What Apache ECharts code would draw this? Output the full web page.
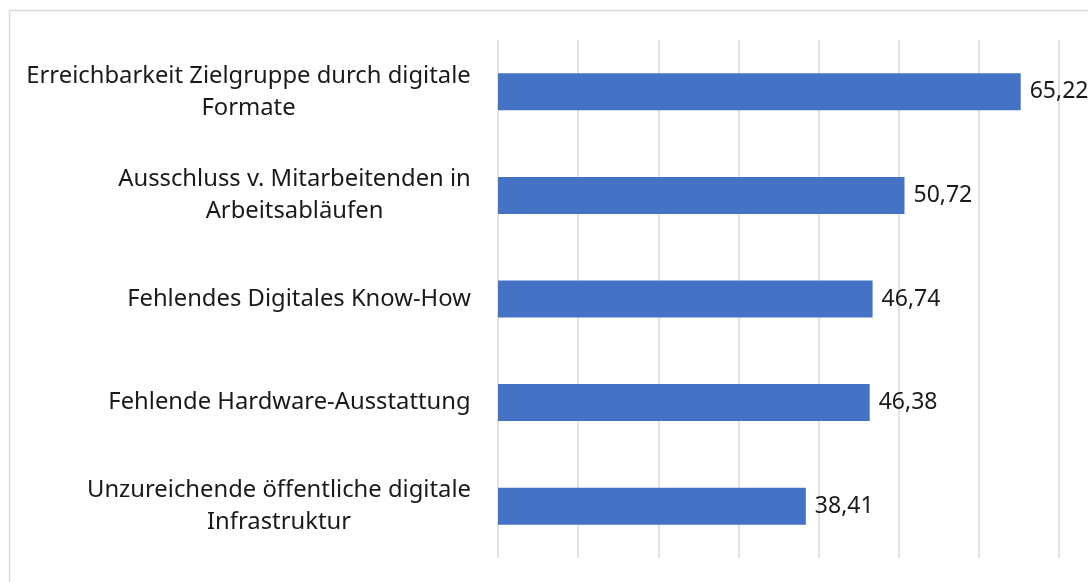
<!DOCTYPE html>
<html>
<head>
<meta charset="utf-8">
<script src="https://cdn.jsdelivr.net/npm/echarts@6/dist/echarts.min.js"></script>
<style>
  html, body { margin: 0; padding: 0; background: #fff; }
  #chart { width: 1088px; height: 582px; }
</style>
</head>
<body>
<div id="chart"></div>
<script>
// Kategorien (von oben nach unten) und Werte in Prozent
var categories = [
  'Erreichbarkeit Zielgruppe durch digitale\nFormate',
  'Ausschluss v. Mitarbeitenden in\nArbeitsabläufen',
  'Fehlendes Digitales Know-How',
  'Fehlende Hardware-Ausstattung',
  'Unzureichende öffentliche digitale\nInfrastruktur'
]
var values = [65.22, 50.72, 46.74, 46.38, 38.41]

var fontFamily = 'Noto Sans'
var fontSize = 23.8

// breite der längsten zeile messen, damit mehrzeilige labels zentriert werden
var ctx = document.createElement('canvas').getContext('2d')
ctx.font = fontSize + 'px "' + fontFamily + '"'
var rich = {}
categories.forEach(function (c, i) {
  var w = Math.max.apply(null, c.split('\n').map(function (l) { return ctx.measureText(l).width }))
  rich['c' + i] = { width: Math.ceil(w), align: 'center', fontSize: fontSize, fontFamily: fontFamily, color: '#1a1a1a', lineHeight: 32 }
})

var chart = echarts.init(document.getElementById('chart'))
var option = {
  backgroundColor: '#fff',
  animation: false,
  graphic: [{
    type: 'rect',
    shape: { x: 9.5, y: 10.5, width: 1200, height: 700 },
    style: { fill: 'none', stroke: '#d9d9d9', lineWidth: 1.5 },
    silent: true
  }],
  grid: { left: 498, right: 29, top: 40, bottom: 24 },
  xAxis: {
    type: 'value',
    min: 0,
    max: 70,
    interval: 10,
    axisLabel: { show: false },
    axisLine: { show: false },
    axisTick: { show: false },
    splitLine: { lineStyle: { color: '#d9d9d9', width: 1.5 } }
  },
  yAxis: {
    type: 'category',
    inverse: true,
    data: categories,
    axisLine: { show: false },
    axisTick: { show: false },
    axisLabel: {
      margin: 27,
      align: 'right',
      formatter: function (val, idx) {
        return val.split('\n').map(function (l) { return '{c' + idx + '|' + l + '}' }).join('\n')
      },
      rich: rich
    }
  },
  series: [{
    type: 'bar',
    data: values,
    barWidth: 37,
    itemStyle: { color: '#4472C4' },
    label: {
      show: true,
      position: 'right',
      distance: 9,
      color: '#1a1a1a',
      fontSize: 23,
      fontFamily: fontFamily,
      formatter: function (p) { return p.value.toFixed(2).replace('.', ',') }
    }
  }]
}
chart.setOption(option)
</script>
</body>
</html>
